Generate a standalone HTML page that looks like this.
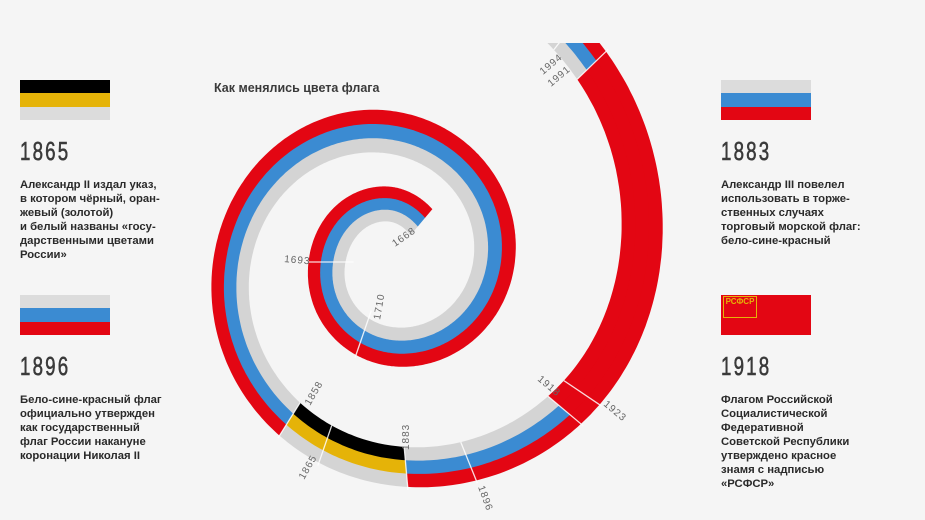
<!DOCTYPE html>
<html><head><meta charset="utf-8"><style>
body{margin:0;background:#f5f5f5;width:925px;height:520px;overflow:hidden;position:relative;font-family:"Liberation Sans",sans-serif}
.flag{position:absolute;width:90px;height:40px}
.flag div{height:13.33px}
.yr{position:absolute;font-size:26px;color:#3a3a3a;letter-spacing:3px;transform:scaleX(0.72);transform-origin:left top;line-height:25px;-webkit-text-stroke:0.6px #3a3a3a}
.tx{position:absolute;font-size:11.3px;font-weight:bold;color:#2a2a2a;line-height:14px;width:170px}
.ttl{position:absolute;left:214px;top:81px;font-size:12.5px;font-weight:bold;color:#3a3a3a}
svg{position:absolute;left:0;top:0}
</style></head><body>
<div class="flag" style="left:20px;top:80px"><div style="background:#000"></div><div style="background:#e5b308"></div><div style="background:#dcdcdc"></div></div>
<div class="yr" style="left:20px;top:139px">1865</div>
<div class="tx" style="left:20px;top:178px">Александр II издал указ,<br>в котором чёрный, оран-<br>жевый (золотой)<br>и белый названы «госу-<br>дарственными цветами<br>России»</div>
<div class="flag" style="left:20px;top:295px"><div style="background:#dcdcdc"></div><div style="background:#3b8bd2"></div><div style="background:#e30613"></div></div>
<div class="yr" style="left:20px;top:354px">1896</div>
<div class="tx" style="left:20px;top:393px">Бело-сине-красный флаг<br>официально утвержден<br>как государственный<br>флаг России накануне<br>коронации Николая II</div>
<div class="flag" style="left:721px;top:80px"><div style="background:#dcdcdc"></div><div style="background:#3b8bd2"></div><div style="background:#e30613"></div></div>
<div class="yr" style="left:721px;top:139px">1883</div>
<div class="tx" style="left:721px;top:178px">Александр III повелел<br>использовать в торже-<br>ственных случаях<br>торговый морской флаг:<br>бело-сине-красный</div>
<div class="flag" style="left:721px;top:295px;background:#e30613"><span style="position:absolute;left:2px;top:1px;width:32px;height:20px;border:1px solid #e5b308;color:#e5b308;font-size:8px;font-weight:bold;line-height:9px;text-align:center">РСФСР</span></div>
<div class="yr" style="left:721px;top:354px">1918</div>
<div class="tx" style="left:721px;top:393px">Флагом Российской<br>Социалистической<br>Федеративной<br>Советской Республики<br>утверждено красное<br>знамя с надписью<br>«РСФСР»</div>
<div class="ttl">Как менялись цвета флага</div>
<svg id="s" width="925" height="520" viewBox="0 0 925 520"></svg>
<script>
var cx=388,cy=262;
var rt=[[50,52],[90,58],[180,61],[270,84],[360,106],[450,130],[540,156],[630,203],[683,232],[727,256],[764,283],[800,312]];
var wt=[[50,34],[180,37],[450,43],[540,38],[630,40],[683,43],[764,40],[800,40]];
function interp(tb,t){var n=tb.length;for(var i=0;i<n-1;i++){if(t<=tb[i+1][0]||i==n-2){var p0=tb[Math.max(i-1,0)],p1=tb[i],p2=tb[i+1],p3=tb[Math.min(i+2,n-1)];var h=p2[0]-p1[0],f=Math.min(Math.max((t-p1[0])/h,0),1);
var m1=(p2[1]-p0[1])/(p2[0]-p0[0]||1)*h,m2=(p3[1]-p1[1])/(p3[0]-p1[0]||1)*h;var f2=f*f,f3=f2*f;
return (2*f3-3*f2+1)*p1[1]+(f3-2*f2+f)*m1+(-2*f3+3*f2)*p2[1]+(f3-f2)*m2;}}return tb[n-1][1];}
function pt(t,r){var th=-t*Math.PI/180;return [cx+r*Math.cos(th),cy+r*Math.sin(th)];}
var R='#e30613',B='#3b8bd2',G='#d4d4d4',K='#000',Y='#e5b308';
var segs=[[50,598,[G,B,R]],[598,635,[K,Y,G]],[635,680,[G,B,R]],[680,764,[R,R,R]],[764,800,[G,B,R]]];
var out='<defs><clipPath id="c"><rect x="0" y="43" width="925" height="480"/></clipPath></defs><g clip-path="url(#c)">';
segs.forEach(function(s){for(var k=0;k<3;k++){var a=[],b=[];for(var t=s[0];t<=s[1]+0.01;t+=1){var r=interp(rt,t),w=interp(wt,t);var r0=r-w/2+k*w/3,r1=r0+w/3+(k<2?0.5:0);a.push(pt(t,r0));b.push(pt(t,r1));}
var p='M'+a.map(function(q){return q[0].toFixed(1)+','+q[1].toFixed(1)}).join('L')+'L'+b.reverse().map(function(q){return q[0].toFixed(1)+','+q[1].toFixed(1)}).join('L')+'Z';
out+='<path d="'+p+'" fill="'+s[2][k]+'"/>';}});
[180,251,598,611,635,652,680,686,764,772].forEach(function(t){var r=interp(rt,t),w=interp(wt,t);var p0=pt(t,r-w/2-(t<300?8:0)),p1=pt(t,r+w/2+3);out+='<line x1="'+p0[0]+'" y1="'+p0[1]+'" x2="'+p1[0]+'" y2="'+p1[1]+'" stroke="#fff" stroke-width="1.3" opacity="0.85"/>';});
out+='</g>';
var L=[['1668',395,247,-35],['1693',284,262,5],['1710',380,320,-80],['1858',310,406,-60],['1865',304,480,-60],['1883',409,450,-90],['1896',478,487,70],['1918',537,380,40],['1923',603,405,40],['1994',543,75,-40],['1991',551,87,-40]];
L.forEach(function(l){out+='<text x="'+l[1]+'" y="'+l[2]+'" transform="rotate('+l[3]+' '+l[1]+' '+l[2]+')" font-family="Liberation Sans" font-size="10" fill="#666" letter-spacing="1">'+l[0]+'</text>';});
document.getElementById('s').innerHTML=out;
</script>
</body></html>
